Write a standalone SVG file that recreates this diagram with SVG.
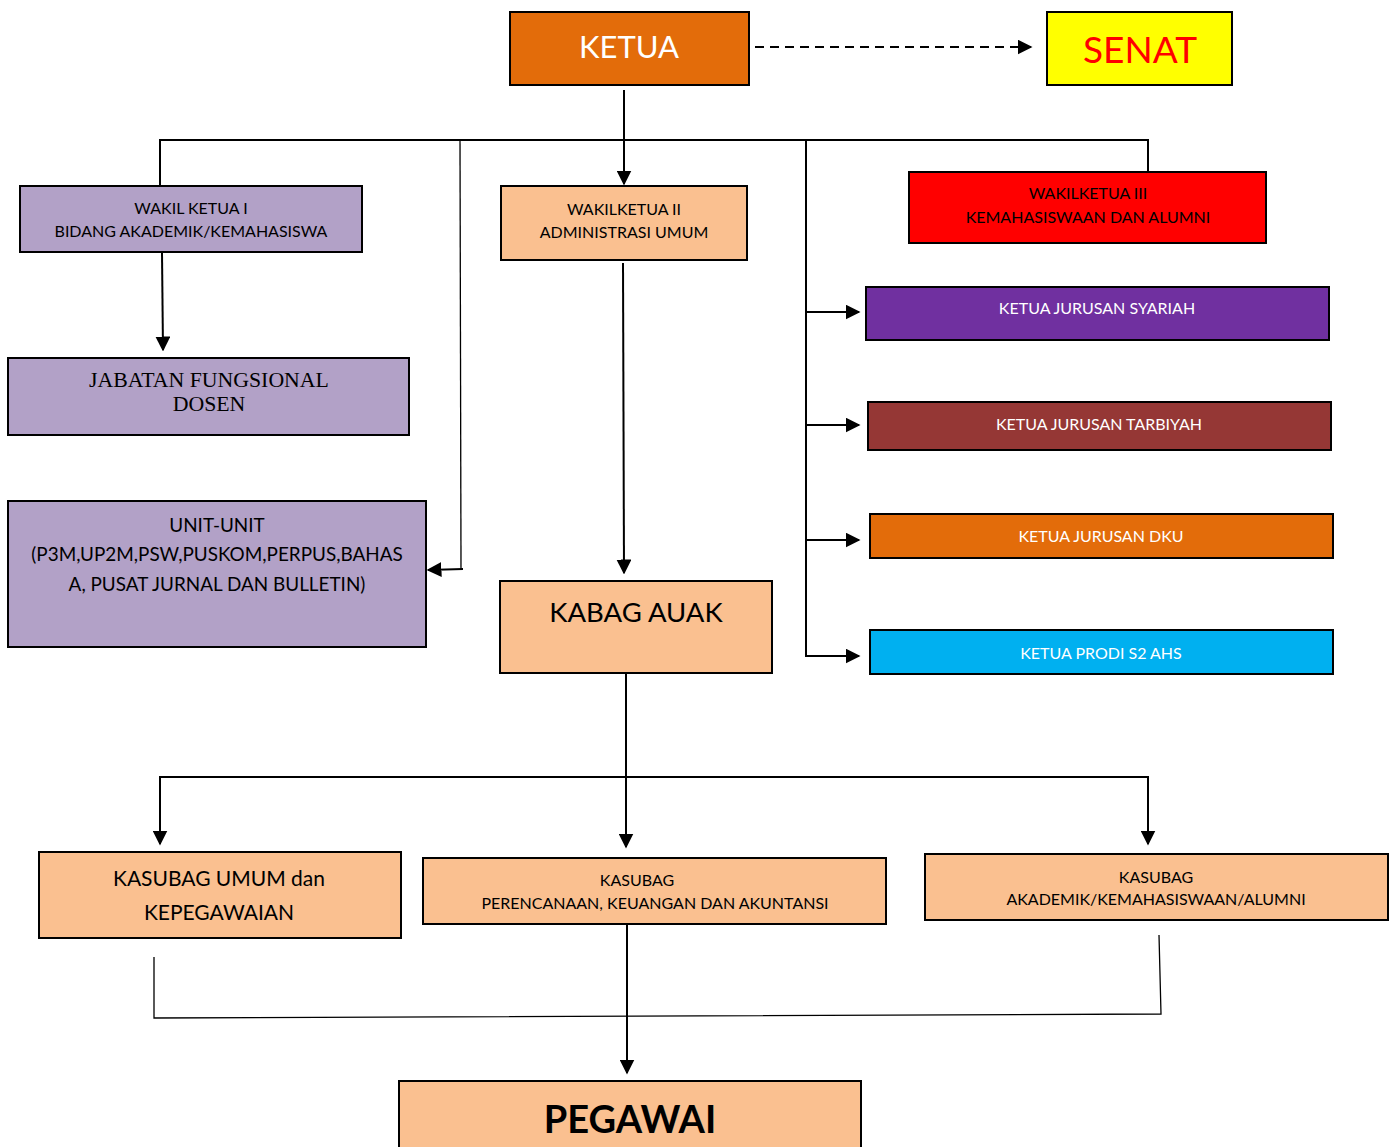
<svg xmlns="http://www.w3.org/2000/svg" width="1391" height="1147" viewBox="0 0 1391 1147">
<defs>
<marker id="ahb" viewBox="0 0 10 10" refX="9" refY="5" markerWidth="15" markerHeight="15" markerUnits="userSpaceOnUse" orient="auto">
<path d="M0,0 L10,5 L0,10 z" fill="#000"/>
</marker>
</defs>
<style>
.box{stroke:#000;stroke-width:2}
.t{font-family:Lato,"Open Sans","Liberation Sans",sans-serif;text-anchor:middle}
.s15{font-size:16px}
.ln{fill:none;stroke:#000;stroke-width:2}
.thin{fill:none;stroke:#000;stroke-width:1.3}
</style>
<rect width="1391" height="1147" fill="#fff"/>
<g id="connectors">
<path class="ln" d="M755,47 L1031,47" stroke-dasharray="9,6" marker-end="url(#ahb)"/>
<path class="ln" d="M624,90 L624,184" marker-end="url(#ahb)"/>
<path class="ln" d="M160,186 L160,140 L1148,140 L1148,172"/>
<path class="thin" d="M460,140 L461,569"/>
<path class="ln" d="M463,569 L428,570" marker-end="url(#ahb)"/>
<path class="ln" d="M806,140 L806,657"/>
<path class="ln" d="M806,312 L859,312" marker-end="url(#ahb)"/>
<path class="ln" d="M806,425 L859,425" marker-end="url(#ahb)"/>
<path class="ln" d="M806,540 L859,540" marker-end="url(#ahb)"/>
<path class="ln" d="M806,656 L859,656" marker-end="url(#ahb)"/>
<path class="ln" d="M162,253 L163,350" marker-end="url(#ahb)"/>
<path class="ln" d="M623,263 L624,573" marker-end="url(#ahb)"/>
<path class="ln" d="M626,673 L626,847" marker-end="url(#ahb)"/>
<path class="ln" d="M160,844 L160,777 L1148,777 L1148,844" marker-end="url(#ahb)"/>
<path class="ln" d="M160,790 L160,844" marker-end="url(#ahb)"/>
<path class="thin" d="M154,957 L154,1018 L1161,1014 L1159,935"/>
<path class="ln" d="M627,925 L627,1073" marker-end="url(#ahb)"/>
</g>
<g id="ketua">
<rect class="box" x="510" y="12" width="239" height="73" fill="#E36C0A"/>
<text class="t" x="629" y="58" font-size="31" fill="#fff">KETUA</text>
</g>
<g id="senat">
<rect class="box" x="1047" y="12" width="185" height="73" fill="#FFFF00"/>
<text class="t" x="1140" y="63" font-size="37" fill="#FF0000">SENAT</text>
</g>
<g id="wakil1">
<rect class="box" x="20" y="186" width="342" height="66" fill="#B2A1C7"/>
<text class="t s15" x="191" y="214">WAKIL KETUA I</text>
<text class="t s15" x="191" y="237">BIDANG AKADEMIK/KEMAHASISWA</text>
</g>
<g id="jabatan">
<rect class="box" x="8" y="358" width="401" height="77" fill="#B2A1C7"/>
<text x="209" y="387" font-family="'Liberation Serif',serif" font-size="21.8" text-anchor="middle">JABATAN FUNGSIONAL</text>
<text x="209" y="411" font-family="'Liberation Serif',serif" font-size="21.8" text-anchor="middle">DOSEN</text>
</g>
<g id="unit">
<rect class="box" x="8" y="501" width="418" height="146" fill="#B2A1C7"/>
<text class="t" x="217" y="532" font-size="18.9">UNIT-UNIT</text>
<text class="t" x="217" y="561" font-size="18.9">(P3M,UP2M,PSW,PUSKOM,PERPUS,BAHAS</text>
<text class="t" x="217" y="591" font-size="18.9">A, PUSAT JURNAL DAN BULLETIN)</text>
</g>
<g id="wakil2">
<rect class="box" x="501" y="186" width="246" height="74" fill="#FAC090"/>
<text class="t s15" x="624" y="215">WAKILKETUA II</text>
<text class="t s15" x="624" y="238">ADMINISTRASI UMUM</text>
</g>
<g id="kabag">
<rect class="box" x="500" y="581" width="272" height="92" fill="#FAC090"/>
<text class="t" x="636" y="622" font-size="27.5">KABAG AUAK</text>
</g>
<g id="wakil3">
<rect class="box" x="909" y="172" width="357" height="71" fill="#FF0000"/>
<text class="t s15" x="1088" y="199">WAKILKETUA III</text>
<text class="t s15" x="1088" y="223">KEMAHASISWAAN DAN ALUMNI</text>
</g>
<g id="syariah">
<rect class="box" x="866" y="287" width="463" height="53" fill="#7030A0"/>
<text class="t s15" x="1097" y="314" fill="#fff">KETUA JURUSAN SYARIAH</text>
</g>
<g id="tarbiyah">
<rect class="box" x="868" y="402" width="463" height="48" fill="#953735"/>
<text class="t s15" x="1099" y="430" fill="#fff">KETUA JURUSAN TARBIYAH</text>
</g>
<g id="dku">
<rect class="box" x="870" y="514" width="463" height="44" fill="#E36C0A"/>
<text class="t s15" x="1101" y="542" fill="#fff">KETUA JURUSAN DKU</text>
</g>
<g id="prodi">
<rect class="box" x="870" y="630" width="463" height="44" fill="#00B0F0"/>
<text class="t s15" x="1101" y="659" fill="#fff">KETUA PRODI S2 AHS</text>
</g>
<g id="kasubag-umum">
<rect class="box" x="39" y="852" width="362" height="86" fill="#FAC090"/>
<text class="t" x="219" y="886" font-size="21">KASUBAG UMUM dan</text>
<text class="t" x="219" y="920" font-size="21">KEPEGAWAIAN</text>
</g>
<g id="kasubag-perencanaan">
<rect class="box" x="423" y="858" width="463" height="66" fill="#FAC090"/>
<text class="t s15" x="637" y="886">KASUBAG</text>
<text class="t s15" x="655" y="909">PERENCANAAN, KEUANGAN DAN AKUNTANSI</text>
</g>
<g id="kasubag-akademik">
<rect class="box" x="925" y="854" width="463" height="66" fill="#FAC090"/>
<text class="t s15" x="1156" y="883">KASUBAG</text>
<text class="t s15" x="1156" y="905">AKADEMIK/KEMAHASISWAAN/ALUMNI</text>
</g>
<g id="pegawai">
<rect class="box" x="399" y="1081" width="462" height="75" fill="#FAC090"/>
<text class="t" x="630" y="1133" font-size="38" font-weight="bold">PEGAWAI</text>
</g>
</svg>
